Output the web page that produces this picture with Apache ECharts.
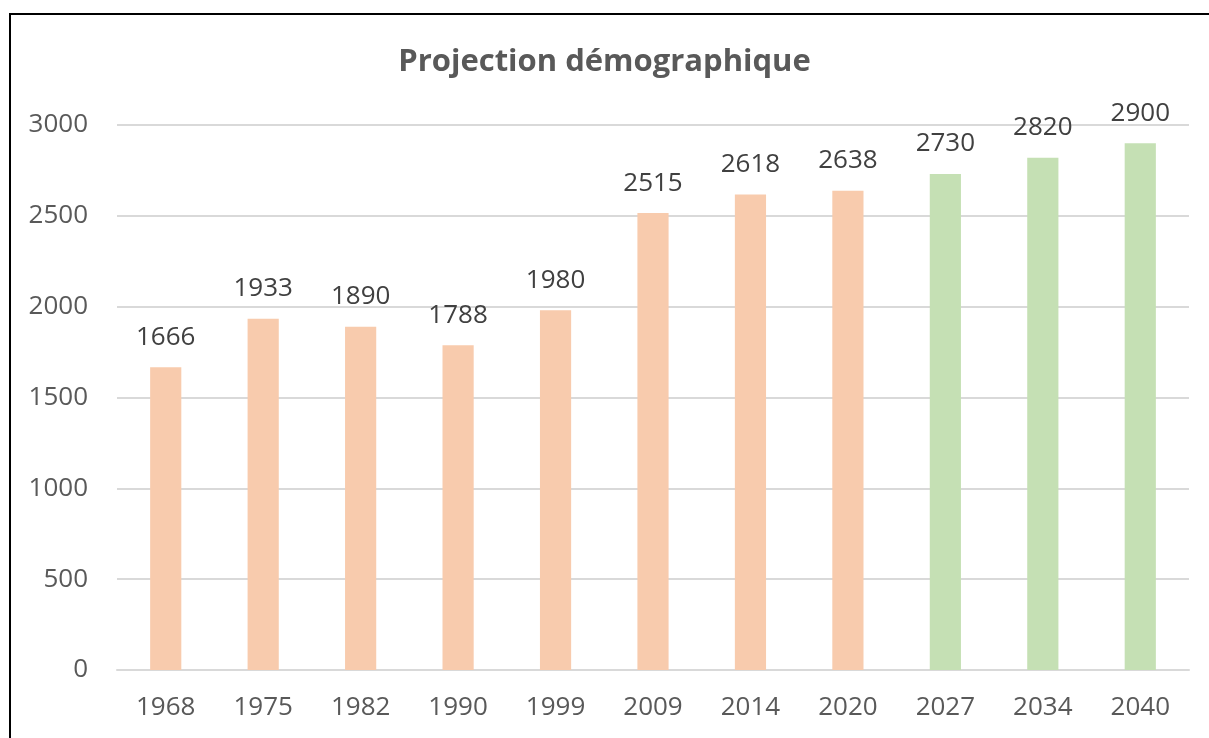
<!DOCTYPE html>
<html>
<head>
<meta charset="utf-8">
<script src="https://cdn.jsdelivr.net/npm/echarts@6/dist/echarts.min.js"></script>
<style>
html,body{margin:0;padding:0;background:#fff;}
#chart{width:1209px;height:738px;}
</style>
</head>
<body>
<div id="chart"></div>
<script>
const years = ['1968','1975','1982','1990','1999','2009','2014','2020','2027','2034','2040'];
const population = [1666,1933,1890,1788,1980,2515,2618,2638,2730,2820,2900];
const isProjection = [false,false,false,false,false,false,false,false,true,true,true];
const yTicks = [0,500,1000,1500,2000,2500,3000];

const chart = echarts.init(document.getElementById('chart'));
const FONT = '"Open Sans", sans-serif';
chart.setOption({
  animation: false,
  title: {
    text: 'Projection démographique',
    left: 'center',
    top: 42,
    textStyle: {fontFamily: FONT, fontSize: 31, fontWeight: 'bold', color: '#595959'}
  },
  graphic: [{
    type: 'rect',
    shape: {x: 10, y: 14, width: 1400, height: 1000},
    style: {fill: 'none', stroke: '#000', lineWidth: 2},
    silent: true
  }],
  grid: {left: 117, right: 20, top: 125, bottom: 68},
  xAxis: {
    type: 'category',
    data: years,
    axisLine: {lineStyle: {color: '#D9D9D9', width: 2}},
    axisTick: {show: false},
    axisLabel: {fontFamily: FONT, fontSize: 26, color: '#595959', margin: 25}
  },
  yAxis: {
    type: 'value',
    min: yTicks[0],
    max: yTicks[yTicks.length - 1],
    interval: 500,
    axisLine: {show: false},
    axisTick: {show: false},
    splitLine: {lineStyle: {color: '#D9D9D9', width: 2}},
    axisLabel: {fontFamily: FONT, fontSize: 26, color: '#595959', margin: 29,
      formatter: v => String(v)}
  },
  series: [{
    type: 'bar',
    data: population.map((v, i) => ({
      value: v,
      itemStyle: {color: isProjection[i] ? '#C5E0B4' : '#F8CBAD'}
    })),
    barWidth: '32%',
    label: {
      show: true,
      position: 'top',
      distance: 17,
      fontFamily: FONT,
      fontSize: 26,
      color: '#404040'
    }
  }]
});
</script>
</body>
</html>
